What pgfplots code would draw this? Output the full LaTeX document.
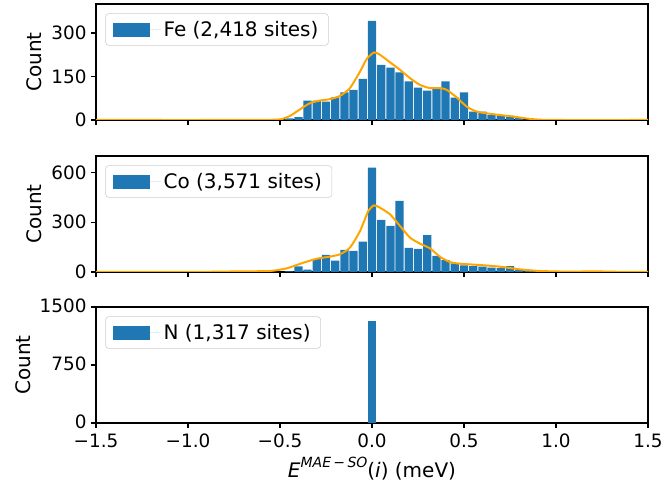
\documentclass[border=0pt]{standalone}
\usepackage{fontspec}
\setmainfont{DejaVu Sans}
\usepackage{pgfplots}
\pgfplotsset{compat=1.18}
\definecolor{mplblue}{HTML}{1F77B4}
\definecolor{mplorange}{HTML}{FFA500}

\pgfplotsset{
 histax/.style={
  scale only axis, width=414pt, height=87pt,
  xmin=-1.5, xmax=1.5, ymin=0,
  xtick={-1.5,-1,-0.5,0,0.5,1,1.5},
  tick pos=left, tick align=outside, major tick length=3.6pt,
  every tick/.style={black, line width=0.8pt},
  axis line style={line width=0.8pt},
  /pgf/number format/assume math mode=true,
  /pgf/number format/1000 sep={},
  tick label style={font=\fontsize{13.8}{16}\selectfont},
  ylabel={Count}, label style={font=\fontsize{15}{18}\selectfont},
  legend style={at={(rel axis cs:0,1)}, anchor=north west, xshift=7pt, yshift=-7pt,
    draw=black!20, rounded corners=2.5pt, fill=white, text opacity=1,
    font=\fontsize{15}{18}\selectfont, inner xsep=5.5pt, inner ysep=3.5pt},
  legend cell align=left,
 },
 barst/.style={ybar, fill=mplblue, draw=none, bar width=0.045,
   legend image code/.code={\fill[mplblue, sharp corners] (0pt,-5.25pt) rectangle (28pt,5.25pt);
     \path (0pt,0pt) -- (36pt,0pt);}},
 kdest/.style={mplorange, line width=1.5pt, smooth, tension=0.4, forget plot},
}

\begin{document}
\begin{tikzpicture}
\path[use as bounding box] (0,0) rectangle (498pt,363.75pt);

% Fe
\begin{axis}[histax, at={(72pt,273.75pt)}, anchor=south west,
  ymax=400, ytick={0,150,300}, xticklabels={}]
\addplot[barst] coordinates {
(-0.45,6) (-0.40,10) (-0.35,67) (-0.30,67) (-0.25,63) (-0.20,78) (-0.15,95)
(-0.10,104) (-0.05,142) (0.00,342) (0.05,190) (0.10,181) (0.15,164) (0.20,133)
(0.25,112) (0.30,101) (0.35,113) (0.40,133) (0.45,77) (0.50,95) (0.55,29)
(0.60,29) (0.65,17) (0.70,15) (0.75,14) (0.80,9)};
\addlegendentry{Fe (2,418 sites)}
\addplot[kdest] coordinates {
(-1.5,0) (-0.8,0) (-0.6,0.5) (-0.5,2) (-0.446,14) (-0.391,37) (-0.337,58)
(-0.283,67) (-0.228,72) (-0.174,83) (-0.12,110) (-0.065,167) (-0.029,210)
(0.011,233) (0.043,225) (0.098,199) (0.152,173) (0.207,144) (0.261,121)
(0.315,110) (0.37,110) (0.406,104) (0.46,78) (0.515,46) (0.569,29) (0.623,23)
(0.696,17) (0.766,12) (0.841,5) (0.913,1) (1.02,0) (1.5,0)};
\end{axis}

% Co
\begin{axis}[histax, at={(72pt,159.75pt)}, anchor=south west,
  ymax=700, ytick={0,300,600}, xticklabels={}]
\addplot[barst] coordinates {
(-0.65,4) (-0.60,3) (-0.45,3) (-0.40,34) (-0.35,14) (-0.30,78) (-0.25,103)
(-0.20,68) (-0.15,133) (-0.10,127) (-0.05,183) (0.00,630) (0.05,314) (0.10,278)
(0.15,429) (0.20,145) (0.25,139) (0.30,223) (0.35,97) (0.40,72) (0.45,52)
(0.50,40) (0.55,36) (0.60,32) (0.65,26) (0.70,24) (0.75,36) (0.80,16)
(0.85,10) (0.90,8) (0.95,5)};
\addlegendentry{Co (3,571 sites)}
\addplot[kdest] coordinates {
(-1.5,0) (-1.0,0.5) (-0.826,2) (-0.717,4) (-0.554,6) (-0.464,22) (-0.373,56)
(-0.3,80) (-0.228,93) (-0.174,107) (-0.12,147) (-0.065,247) (-0.02,368)
(0.011,402) (0.043,388) (0.098,348) (0.152,278) (0.207,207) (0.261,171)
(0.315,143) (0.37,91) (0.424,60) (0.478,50) (0.587,42) (0.696,32) (0.804,16)
(0.913,6) (1.076,2) (1.2,4) (1.35,1) (1.5,0)};
\end{axis}

% N
\begin{axis}[histax, at={(72pt,46.5pt)}, anchor=south west,
  ymax=1500, ytick={0,750,1500},
  xticklabels={−1.5,−1.0,−0.5,0.0,0.5,1.0,1.5},
  xticklabel style={yshift=-1.2pt},
  yticklabel style={yshift=0.6pt},
  xlabel={\textit{E}\raisebox{0.5em}{\fontsize{10.5}{12}\selectfont\textit{MAE}\,−\,\textit{SO}}(\textit{i}) (meV)}]
\addplot[barst] coordinates {(0.00,1317)};
\addlegendentry{N (1,317 sites)}
\end{axis}
\end{tikzpicture}
\end{document}
